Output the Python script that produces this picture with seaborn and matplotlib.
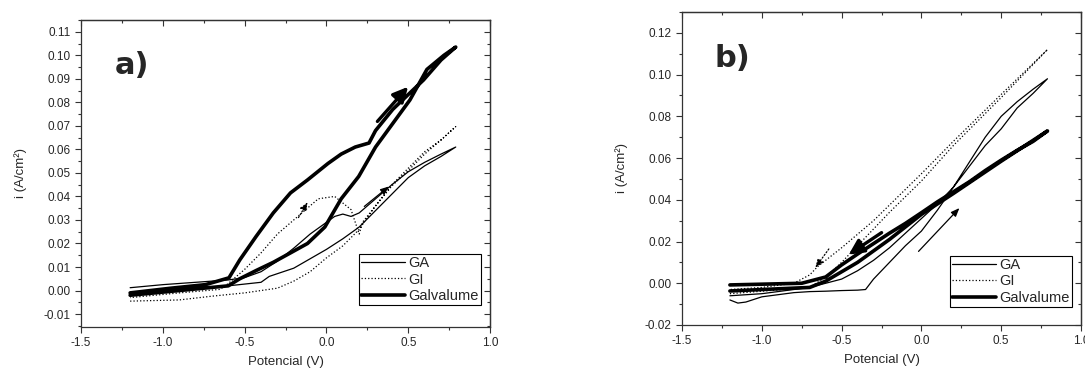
import numpy as np
import matplotlib
matplotlib.use("Agg")
import matplotlib.pyplot as plt
from matplotlib.ticker import MultipleLocator
import seaborn as sns
import pandas as pd

# ---- panel a) data (forward sweep then return sweep) ----
a_ga_x = [-1.2, -0.8, -0.6, -0.4, -0.35, -0.2, -0.1, 0.0, 0.1, 0.2, 0.3, 0.4, 0.5, 0.6, 0.7, 0.79,
          0.7, 0.6, 0.5, 0.4, 0.3, 0.2, 0.15, 0.1, 0.05, 0.0, -0.1, -0.2, -0.3, -0.4, -0.5, -0.6, -0.8, -1.0, -1.2]
a_ga_y = [-0.001, 0.001, 0.002, 0.0035, 0.006, 0.0095, 0.0135, 0.0175, 0.022, 0.027, 0.034, 0.041, 0.048, 0.053, 0.057, 0.061,
          0.058, 0.0545, 0.0505, 0.045, 0.039, 0.033, 0.0315, 0.0325, 0.0315, 0.029, 0.024, 0.018, 0.0125, 0.008, 0.0055, 0.0045, 0.0035, 0.0025, 0.0012]

a_gi_x = [-1.2, -0.9, -0.7, -0.5, -0.3, -0.2, -0.1, 0.0, 0.1, 0.2, 0.3, 0.4, 0.5, 0.6, 0.7, 0.79,
          0.7, 0.6, 0.5, 0.4, 0.3, 0.22, 0.2, 0.15, 0.05, -0.05, -0.1, -0.2, -0.3, -0.4, -0.5, -0.6, -0.65, -0.9, -1.2]
a_gi_y = [-0.0045, -0.004, -0.0024, -0.001, 0.001, 0.004, 0.008, 0.0139, 0.019, 0.026, 0.036, 0.045, 0.052, 0.059, 0.064, 0.0697,
          0.064, 0.058, 0.051, 0.0445, 0.036, 0.029, 0.024, 0.0344, 0.040, 0.039, 0.036, 0.030, 0.024, 0.016, 0.009, 0.003, 0.0005, -0.001, -0.003]

a_gv_x = [-1.2, -0.9, -0.6, -0.53, -0.43, -0.325, -0.22, -0.116, -0.01, 0.09, 0.197, 0.30, 0.405, 0.51, 0.614, 0.718, 0.79,
          0.70, 0.593, 0.51, 0.405, 0.30, 0.26, 0.176, 0.09, 0.009, -0.116, -0.22, -0.325, -0.43, -0.53, -0.596, -0.74, -0.95, -1.2]
a_gv_y = [-0.002, 0.000, 0.002, 0.005, 0.0085, 0.012, 0.016, 0.020, 0.027, 0.039, 0.0485, 0.061, 0.071, 0.081, 0.094, 0.100, 0.1035,
          0.098, 0.0895, 0.084, 0.077, 0.068, 0.0627, 0.061, 0.058, 0.054, 0.047, 0.0415, 0.033, 0.023, 0.013, 0.0054, 0.0025, 0.001, -0.001]

# ---- panel b) data ----
b_ga_x = [-1.2, -1.15, -1.1, -1.0, -0.9, -0.8, -0.7, -0.6, -0.5, -0.4, -0.35, -0.3, -0.2, -0.1, 0.0, 0.1, 0.2, 0.3, 0.4, 0.5, 0.6, 0.7, 0.79,
          0.7, 0.6, 0.5, 0.4, 0.3, 0.2, 0.1, 0.0, -0.1, -0.2, -0.3, -0.4, -0.5, -0.6, -0.7, -1.0, -1.2]
b_ga_y = [-0.008, -0.0095, -0.009, -0.0065, -0.0055, -0.0045, -0.004, -0.0038, -0.0035, -0.0033, -0.003, 0.002, 0.010, 0.018, 0.025, 0.035, 0.046, 0.058, 0.070, 0.080, 0.087, 0.093, 0.098,
          0.091, 0.084, 0.074, 0.066, 0.056, 0.046, 0.038, 0.031, 0.024, 0.017, 0.011, 0.006, 0.002, 0.000, -0.002, -0.005, -0.006]

b_gi_x = [-1.2, -0.7, -0.6, -0.5, -0.4, -0.3, -0.2, 0.0, 0.2, 0.5, 0.79,
          0.5, 0.2, 0.0, -0.3, -0.5, -0.65, -0.7, -0.8, -1.0, -1.2]
b_gi_y = [-0.005, -0.002, 0.003, 0.010, 0.018, 0.026, 0.034, 0.049, 0.066, 0.089, 0.112,
          0.0905, 0.068, 0.0525, 0.030, 0.017, 0.008, 0.004, 0.000, -0.002, -0.003]

b_gv_x = [-1.2, -0.75, -0.6, -0.5, -0.4, -0.3, -0.2, -0.1, 0.0, 0.1, 0.2, 0.3, 0.4, 0.5, 0.6, 0.7, 0.79,
          0.5, 0.2, 0.0, -0.2, -0.4, -0.6, -0.7, -1.0, -1.2]
b_gv_y = [-0.0008, 0.000, 0.003, 0.0088, 0.014, 0.019, 0.024, 0.0287, 0.0338, 0.039, 0.0438, 0.0486, 0.054, 0.059, 0.0637, 0.068, 0.073,
          0.0585, 0.0430, 0.0330, 0.021, 0.010, 0.001, -0.002, -0.003, -0.0037]

series = ["GA", "GI", "Galvalume"]
styles = {"GA": dict(lw=0.9, ls="-"), "GI": dict(lw=0.9, ls=":"), "Galvalume": dict(lw=2.6, ls="-")}

# arrows: (x_start, y_start, x_end, y_end, series)
a_arrows = [(0.30, 0.071, 0.51, 0.0875, "Galvalume"),
            (0.218, 0.035, 0.395, 0.045, "GA"),
            (-0.18, 0.030, -0.106, 0.0386, "GI")]
b_arrows = [(-0.235, 0.025, -0.47, 0.013, "Galvalume"),
            (-0.57, 0.0175, -0.675, 0.0064, "GI"),
            (-0.03, 0.0143, 0.25, 0.037, "GA")]

sns.set_style("ticks")
plt.rcParams["font.family"] = ["Liberation Sans", "DejaVu Sans"]

fig = plt.figure(figsize=(10.85, 3.71), dpi=100)
ax_a = fig.add_axes([0.0747, 0.1186, 0.377, 0.8275])
ax_b = fig.add_axes([0.6286, 0.124, 0.3677, 0.8437])


def draw_panel(ax, data, arrows, ylim, ymaj, ymin, letter, leg_anchor):
    for name, (xs, ys) in zip(series, data):
        df = pd.DataFrame({"x": xs, "y": ys})
        sns.lineplot(data=df, x="x", y="y", sort=False, estimator=None, ax=ax,
                     color="black", label=name, linewidth=styles[name]["lw"],
                     linestyle=styles[name]["ls"])
    for x0, y0, x1, y1, name in arrows:
        if name == "Galvalume":
            props = dict(arrowstyle="-|>,head_length=0.9,head_width=0.45", lw=2.4, color="black")
        else:
            props = dict(arrowstyle="-|>,head_length=0.5,head_width=0.2", lw=0.9, color="black",
                         linestyle=styles[name]["ls"])
        ax.annotate("", xy=(x1, y1), xytext=(x0, y0), arrowprops=props)
    ax.set_xlim(-1.5, 1.0)
    ax.set_ylim(*ylim)
    ax.xaxis.set_major_locator(MultipleLocator(0.5))
    ax.xaxis.set_minor_locator(MultipleLocator(0.25))
    ax.yaxis.set_major_locator(MultipleLocator(ymaj))
    ax.yaxis.set_minor_locator(MultipleLocator(ymin))
    ax.xaxis.set_major_formatter(plt.FuncFormatter(lambda v, p: f"{v:.1f}"))
    ax.yaxis.set_major_formatter(plt.FuncFormatter(lambda v, p: f"{v:.2f}"))
    ax.tick_params(which="both", direction="out", labelsize=8.5, width=0.8, color="#333333")
    ax.tick_params(which="major", length=4)
    ax.tick_params(which="minor", length=2.5)

    # top/right ticks point inward, no labels
    top = ax.secondary_xaxis("top")
    right = ax.secondary_yaxis("right")
    top.xaxis.set_major_locator(MultipleLocator(0.5))
    top.xaxis.set_minor_locator(MultipleLocator(0.25))
    right.yaxis.set_major_locator(MultipleLocator(ymaj))
    right.yaxis.set_minor_locator(MultipleLocator(ymin))
    for sec in (top, right):
        sec.tick_params(which="both", direction="in", labeltop=False, labelright=False,
                        width=0.8, color="#333333")
        sec.tick_params(which="major", length=4)
        sec.tick_params(which="minor", length=2.5)
        for s in sec.spines.values():
            s.set_linewidth(0.9)
            s.set_color("#333333")

    for s in ax.spines.values():
        s.set_visible(True)
        s.set_linewidth(0.9)
        s.set_color("#333333")
    ax.set_xlabel("Potencial (V)", fontsize=9.5, labelpad=5)
    ax.set_ylabel("i (A/cm²)", fontsize=9.5, labelpad=12)
    ax.text(0.082, 0.805, letter, transform=ax.transAxes, fontsize=22, fontweight="bold",
            va="bottom", ha="left", family="DejaVu Sans")
    leg = ax.legend(loc="lower right", bbox_to_anchor=leg_anchor, fontsize=10.5, frameon=True,
                    fancybox=False, edgecolor="black", framealpha=1, handlelength=3.0,
                    borderpad=0.15, labelspacing=0.15, handletextpad=0.25, borderaxespad=0)
    leg.get_frame().set_linewidth(0.8)


draw_panel(ax_a, [(a_ga_x, a_ga_y), (a_gi_x, a_gi_y), (a_gv_x, a_gv_y)], a_arrows,
           (-0.0155, 0.115), 0.01, 0.005, "a)", (0.978, 0.072))
draw_panel(ax_b, [(b_ga_x, b_ga_y), (b_gi_x, b_gi_y), (b_gv_x, b_gv_y)], b_arrows,
           (-0.02, 0.13), 0.02, 0.01, "b)", (0.977, 0.058))

fig.savefig("out.png", dpi=100)
